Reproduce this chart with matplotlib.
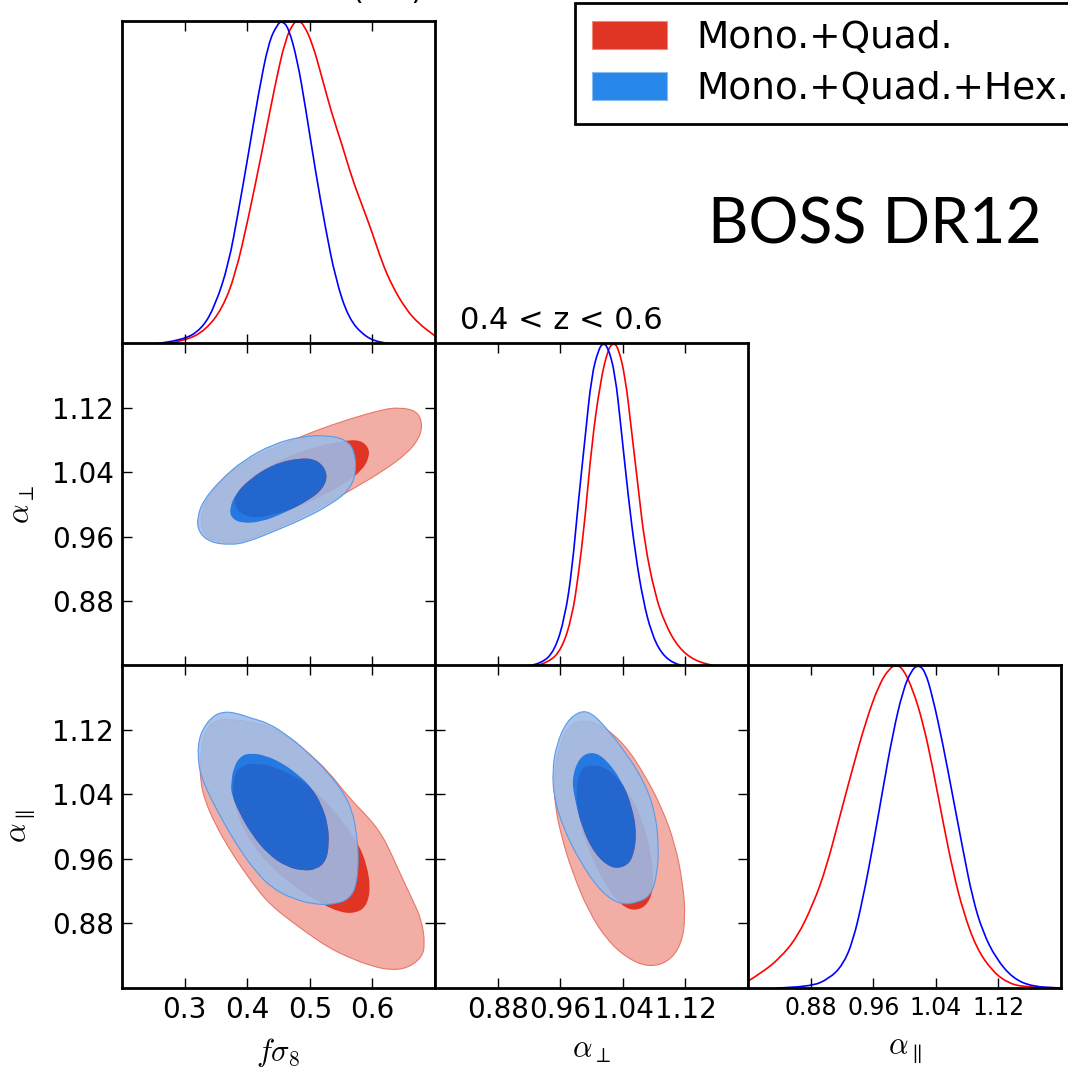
import numpy as np
import matplotlib
matplotlib.use("Agg")
import matplotlib.pyplot as plt
from matplotlib.path import Path
from matplotlib.patches import PathPatch, Patch

plt.rcParams['mathtext.fontset'] = 'cm'
plt.rcParams['font.family'] = ['DejaVu Sans']

RED = '#E03424'
RED_LIGHT = '#F2ADA5'
RED_EDGE = '#E8776B'
BLUE = '#0070ED'
BLUE_LIGHT = '#9CBCE9'
BLUE_EDGE = '#5A9AE8'

fs8_ticks = [0.3, 0.4, 0.5, 0.6]
alpha_ticks = [0.88, 0.96, 1.04, 1.12]
fs8_lim = (0.2, 0.7)
alpha_lim = (0.8, 1.2)

# 1D marginals, peak normalised to 1
fs8_red = np.array([
    [0.269, 0.0], [0.301, 0.010], [0.333, 0.042], [0.360, 0.109], [0.381, 0.214],
    [0.402, 0.391], [0.424, 0.599], [0.445, 0.807], [0.461, 0.943], [0.474, 0.995],
    [0.482, 1.0], [0.490, 0.990], [0.504, 0.932], [0.519, 0.828], [0.535, 0.714],
    [0.551, 0.620], [0.567, 0.516], [0.583, 0.432], [0.599, 0.349], [0.615, 0.255],
    [0.631, 0.182], [0.653, 0.109], [0.674, 0.063], [0.700, 0.025]])
fs8_blue = np.array([
    [0.250, 0.0], [0.296, 0.010], [0.328, 0.047], [0.349, 0.120], [0.370, 0.245],
    [0.386, 0.411], [0.402, 0.589], [0.418, 0.776], [0.434, 0.932], [0.448, 0.990],
    [0.456, 1.0], [0.466, 0.979], [0.480, 0.880], [0.493, 0.734], [0.509, 0.536],
    [0.525, 0.359], [0.541, 0.203], [0.562, 0.078], [0.589, 0.021], [0.615, 0.003],
    [0.642, 0.0]])

aperp_red = np.array([
    [0.928, 0.0], [0.945, 0.010], [0.962, 0.052], [0.975, 0.151], [0.983, 0.275],
    [0.992, 0.462], [1.000, 0.680], [1.011, 0.877], [1.021, 0.981], [1.028, 1.0],
    [1.034, 0.987], [1.043, 0.898], [1.051, 0.732], [1.060, 0.545], [1.068, 0.379],
    [1.081, 0.223], [1.094, 0.130], [1.111, 0.057], [1.132, 0.016], [1.158, 0.0]])
aperp_blue = np.array([
    [0.919, 0.0], [0.936, 0.007], [0.953, 0.047], [0.966, 0.151], [0.975, 0.296],
    [0.983, 0.504], [0.992, 0.711], [1.000, 0.898], [1.009, 0.981], [1.015, 1.0],
    [1.021, 0.987], [1.030, 0.909], [1.038, 0.732], [1.047, 0.524], [1.056, 0.348],
    [1.066, 0.202], [1.077, 0.099], [1.090, 0.036], [1.107, 0.005], [1.124, 0.0]])

apar_red = np.array([
    [0.800, 0.021], [0.819, 0.050], [0.840, 0.091], [0.862, 0.154], [0.883, 0.258],
    [0.900, 0.372], [0.917, 0.528], [0.934, 0.683], [0.951, 0.829], [0.968, 0.943],
    [0.981, 0.990], [0.989, 1.0], [0.998, 0.990], [1.011, 0.922], [1.024, 0.818],
    [1.036, 0.683], [1.049, 0.517], [1.062, 0.361], [1.075, 0.237], [1.092, 0.123],
    [1.113, 0.050], [1.134, 0.013], [1.156, 0.003], [1.200, 0.0]])
apar_blue = np.array([
    [0.836, 0.0], [0.879, 0.003], [0.904, 0.029], [0.921, 0.071], [0.934, 0.143],
    [0.947, 0.278], [0.960, 0.444], [0.972, 0.611], [0.985, 0.787], [0.998, 0.922],
    [1.009, 0.984], [1.017, 1.0], [1.026, 0.984], [1.036, 0.901], [1.049, 0.756],
    [1.062, 0.590], [1.075, 0.424], [1.087, 0.278], [1.100, 0.174], [1.117, 0.091],
    [1.139, 0.029], [1.164, 0.004], [1.200, 0.0]])

# 2D contours (68% / 95%), fs8 vs alpha_perp
fs8_aperp_red95 = np.array([
    [0.324, 0.980], [0.336, 1.009], [0.368, 1.038], [0.410, 1.059], [0.458, 1.075],
    [0.511, 1.092], [0.564, 1.106], [0.618, 1.118], [0.644, 1.120], [0.671, 1.116],
    [0.680, 1.100], [0.675, 1.082], [0.655, 1.063], [0.618, 1.042], [0.575, 1.022],
    [0.527, 1.001], [0.474, 0.980], [0.426, 0.964], [0.389, 0.953], [0.357, 0.953],
    [0.333, 0.960]])
fs8_aperp_red68 = np.array([
    [0.378, 1.009], [0.399, 1.030], [0.431, 1.046], [0.469, 1.061], [0.511, 1.072],
    [0.554, 1.079], [0.580, 1.080], [0.594, 1.071], [0.595, 1.058], [0.583, 1.042],
    [0.559, 1.028], [0.527, 1.013], [0.485, 0.998], [0.442, 0.987], [0.407, 0.983],
    [0.383, 0.992]])
fs8_aperp_blue95 = np.array([
    [0.320, 0.984], [0.330, 1.005], [0.357, 1.030], [0.394, 1.055], [0.442, 1.075],
    [0.485, 1.084], [0.527, 1.086], [0.559, 1.080], [0.572, 1.065], [0.574, 1.038],
    [0.562, 1.017], [0.535, 1.001], [0.495, 0.984], [0.447, 0.968], [0.399, 0.953],
    [0.373, 0.950], [0.341, 0.953], [0.322, 0.966]])
fs8_aperp_blue68 = np.array([
    [0.372, 0.995], [0.381, 1.013], [0.405, 1.032], [0.442, 1.050], [0.485, 1.058],
    [0.514, 1.055], [0.529, 1.038], [0.522, 1.020], [0.498, 1.005], [0.458, 0.989],
    [0.421, 0.978], [0.389, 0.977], [0.374, 0.984]])

# fs8 vs alpha_par
fs8_apar_red95 = np.array([
    [0.325, 1.085], [0.333, 1.120], [0.349, 1.131], [0.370, 1.133], [0.402, 1.130],
    [0.434, 1.124], [0.466, 1.112], [0.498, 1.091], [0.530, 1.068], [0.562, 1.036],
    [0.594, 1.011], [0.615, 0.990], [0.631, 0.965], [0.647, 0.937], [0.665, 0.908],
    [0.679, 0.883], [0.684, 0.854], [0.679, 0.838], [0.657, 0.825], [0.631, 0.822],
    [0.599, 0.827], [0.562, 0.838], [0.530, 0.850], [0.498, 0.867], [0.466, 0.885],
    [0.439, 0.902], [0.418, 0.920], [0.391, 0.949], [0.370, 0.974], [0.349, 1.003],
    [0.333, 1.031], [0.325, 1.056]])
fs8_apar_red68 = np.array([
    [0.377, 1.048], [0.381, 1.068], [0.397, 1.077], [0.413, 1.078], [0.439, 1.075],
    [0.466, 1.066], [0.493, 1.054], [0.514, 1.040], [0.535, 1.023], [0.556, 1.003],
    [0.578, 0.978], [0.591, 0.953], [0.597, 0.924], [0.591, 0.902], [0.575, 0.893],
    [0.551, 0.893], [0.519, 0.904], [0.477, 0.924], [0.439, 0.949], [0.407, 0.978],
    [0.386, 1.011], [0.377, 1.036]])
fs8_apar_blue95 = np.array([
    [0.330, 1.122], [0.344, 1.136], [0.360, 1.142], [0.381, 1.141], [0.407, 1.134],
    [0.434, 1.128], [0.466, 1.112], [0.498, 1.091], [0.530, 1.066], [0.554, 1.042],
    [0.568, 1.019], [0.575, 0.990], [0.578, 0.961], [0.575, 0.928], [0.564, 0.911],
    [0.543, 0.904], [0.509, 0.903], [0.471, 0.911], [0.439, 0.924], [0.413, 0.945],
    [0.391, 0.968], [0.365, 1.001], [0.341, 1.036], [0.325, 1.064], [0.321, 1.089],
    [0.323, 1.108]])
fs8_apar_blue68 = np.array([
    [0.374, 1.052], [0.378, 1.073], [0.389, 1.087], [0.405, 1.091], [0.429, 1.088],
    [0.455, 1.079], [0.482, 1.064], [0.503, 1.048], [0.519, 1.027], [0.529, 1.003],
    [0.531, 0.978], [0.526, 0.957], [0.511, 0.947], [0.490, 0.945], [0.463, 0.950],
    [0.434, 0.965], [0.407, 0.990], [0.386, 1.019], [0.375, 1.040]])

# alpha_perp vs alpha_par
aperp_apar_red95 = np.array([
    [0.987, 1.132], [1.013, 1.126], [1.043, 1.101], [1.068, 1.064], [1.090, 1.023],
    [1.107, 0.978], [1.117, 0.928], [1.120, 0.887], [1.115, 0.854], [1.098, 0.832],
    [1.073, 0.826], [1.047, 0.836], [1.021, 0.858], [0.996, 0.895], [0.975, 0.945],
    [0.962, 0.986], [0.953, 1.027], [0.952, 1.060], [0.958, 1.097], [0.970, 1.124]])
aperp_apar_red68 = np.array([
    [0.996, 1.077], [1.021, 1.073], [1.047, 1.044], [1.064, 1.011], [1.076, 0.970],
    [1.080, 0.928], [1.073, 0.904], [1.056, 0.895], [1.038, 0.902], [1.017, 0.928],
    [0.996, 0.970], [0.983, 1.011], [0.980, 1.044], [0.985, 1.069]])
aperp_apar_blue95 = np.array([
    [0.985, 1.143], [1.000, 1.141], [1.021, 1.120], [1.047, 1.087], [1.068, 1.054],
    [1.081, 1.019], [1.086, 0.978], [1.084, 0.941], [1.076, 0.915], [1.060, 0.906],
    [1.036, 0.903], [1.011, 0.920], [0.985, 0.957], [0.964, 0.998], [0.952, 1.036],
    [0.950, 1.069], [0.955, 1.101], [0.968, 1.130]])
aperp_apar_blue68 = np.array([
    [1.000, 1.093], [1.017, 1.085], [1.038, 1.058], [1.052, 1.025], [1.058, 0.990],
    [1.053, 0.961], [1.043, 0.950], [1.025, 0.948], [1.004, 0.966], [0.988, 0.998],
    [0.978, 1.036], [0.975, 1.060], [0.984, 1.085]])


def smooth_open(pts):
    # quadratic bezier through midpoints, read points act as control points
    pts = np.asarray(pts, dtype=float)
    verts = [pts[0]]
    codes = [Path.MOVETO]
    for i in range(1, len(pts) - 1):
        verts += [pts[i], 0.5 * (pts[i] + pts[i + 1])]
        codes += [Path.CURVE3, Path.CURVE3]
    verts.append(pts[-1])
    codes.append(Path.LINETO)
    return Path(verts, codes)


def smooth_closed(pts, ccw=True):
    pts = np.asarray(pts, dtype=float)
    x, y = pts[:, 0], pts[:, 1]
    area = 0.5 * np.sum(x * np.roll(y, -1) - np.roll(x, -1) * y)
    if (area > 0) != ccw:
        pts = pts[::-1]
    mids = 0.5 * (pts + np.roll(pts, -1, axis=0))
    verts = [mids[-1]]
    codes = [Path.MOVETO]
    for i in range(len(pts)):
        verts += [pts[i], mids[i]]
        codes += [Path.CURVE3, Path.CURVE3]
    verts.append(mids[-1])
    codes.append(Path.CLOSEPOLY)
    return np.array(verts), codes


def contours(ax, red95, red68, blue95, blue68):
    v, c = smooth_closed(red95)
    ax.add_patch(PathPatch(Path(v, c), fc=RED_LIGHT, ec=RED_EDGE, lw=0.8, zorder=1))
    v, c = smooth_closed(red68)
    ax.add_patch(PathPatch(Path(v, c), fc=RED, ec='none', zorder=2))
    v1, c1 = smooth_closed(blue95, True)
    v2, c2 = smooth_closed(blue68, False)
    ring = Path(np.vstack([v1, v2]), c1 + c2)
    ax.add_patch(PathPatch(ring, fc=BLUE_LIGHT, ec='none', alpha=0.88, zorder=3))
    ax.add_patch(PathPatch(Path(v1, c1), fc='none', ec=BLUE_EDGE, lw=0.8, zorder=3))
    ax.add_patch(PathPatch(Path(v2, c2), fc=BLUE, ec='none', alpha=0.85, zorder=4))


fig = plt.figure(figsize=(10.68, 10.76), dpi=100)
W, H = 1068.0, 1076.0
col_left = [122, 435, 748]
row_top = [21, 343, 665]
pw, ph = 313, 323

axes = {}
for r in range(3):
    for c in range(r + 1):
        rect = [col_left[c] / W, 1 - (row_top[r] + ph) / H, pw / W, ph / H]
        ax = fig.add_axes(rect)
        axes[(r, c)] = ax
        for s in ax.spines.values():
            s.set_linewidth(2.0)
        ax.tick_params(direction='in', length=7, width=1.0, top=True, right=True,
                       labelsize=20, pad=6)

# diagonal: marginals
diag = [(fs8_red, fs8_blue, fs8_lim, fs8_ticks),
        (aperp_red, aperp_blue, alpha_lim, alpha_ticks),
        (apar_red, apar_blue, alpha_lim, alpha_ticks)]
for i, (red, blue, lim, ticks) in enumerate(diag):
    ax = axes[(i, i)]
    ax.add_patch(PathPatch(smooth_open(red), fc='none', ec='red', lw=1.2))
    ax.add_patch(PathPatch(smooth_open(blue), fc='none', ec='blue', lw=1.2))
    ax.set_xlim(*lim)
    ax.set_ylim(0, 1.0)
    ax.set_xticks(ticks)
    ax.set_yticks([])

contours(axes[(1, 0)], fs8_aperp_red95, fs8_aperp_red68, fs8_aperp_blue95, fs8_aperp_blue68)
contours(axes[(2, 0)], fs8_apar_red95, fs8_apar_red68, fs8_apar_blue95, fs8_apar_blue68)
contours(axes[(2, 1)], aperp_apar_red95, aperp_apar_red68, aperp_apar_blue95, aperp_apar_blue68)

for (r, c) in [(1, 0), (2, 0), (2, 1)]:
    ax = axes[(r, c)]
    ax.set_xlim(*(fs8_lim if c == 0 else alpha_lim))
    ax.set_xticks(fs8_ticks if c == 0 else alpha_ticks)
    ax.set_ylim(*alpha_lim)
    ax.set_yticks(alpha_ticks)

for (r, c), ax in axes.items():
    if r != 2:
        ax.tick_params(labelbottom=False)
    if c != 0 or r == 0:
        ax.tick_params(labelleft=False)

axes[(2, 2)].tick_params(labelsize=17)

xlabels = [r'$f\sigma_8$', r'$\alpha_\perp$', r'$\alpha_\parallel$']
for c in range(3):
    ax = axes[(2, c)]
    ax.set_xlabel(xlabels[c], fontsize=22)
    ax.xaxis.set_label_coords(0.5, -0.15)
axes[(1, 0)].set_ylabel(r'$\alpha_\perp$', fontsize=22)
axes[(2, 0)].set_ylabel(r'$\alpha_\parallel$', fontsize=22)
axes[(1, 0)].yaxis.set_label_coords(-0.27, 0.5)
axes[(2, 0)].yaxis.set_label_coords(-0.27, 0.5)

fig.text(460 / W, 1 - 329 / H, '0.4 < z < 0.6', fontsize=22, ha='left', va='baseline')
fig.text(387 / W, 1 + 1 / H, '(0.5)', fontsize=22, ha='center', va='baseline')
fig.text(708 / W, 1 - 243 / H, 'BOSS DR12', fontsize=45, ha='left', va='baseline',
         family=['Lato', 'DejaVu Sans'])

handles = [Patch(fc=RED, ec='#EE8877', lw=0.8, label='Mono.+Quad.'),
           Patch(fc='#2887EB', ec='#88BBF0', lw=0.8, label='Mono.+Quad.+Hex.')]
leg = fig.legend(handles=handles, loc='upper left', bbox_to_anchor=(575 / W, 1 - 3 / H),
                 bbox_transform=fig.transFigure, borderaxespad=0, fontsize=27,
                 fancybox=False, framealpha=1, edgecolor='black', handlelength=2.0,
                 handleheight=0.8, handletextpad=0.8, borderpad=0.45, labelspacing=0.4)
leg.get_frame().set_linewidth(2.0)

fig.savefig('out.png', dpi=100)
